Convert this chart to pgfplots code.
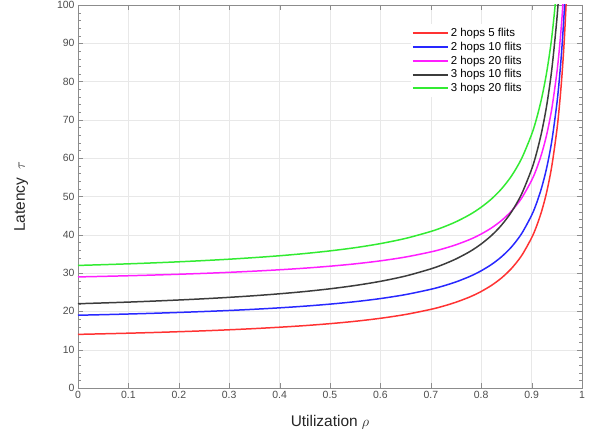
\documentclass[border=0pt]{standalone}
\usepackage{fontspec}
\setmainfont{Liberation Sans}
\usepackage{pgfplots}
\pgfplotsset{compat=1.18}
\definecolor{cRed}{RGB}{255,50,50}
\definecolor{cBlue}{RGB}{40,40,255}
\definecolor{cMag}{RGB}{255,30,255}
\definecolor{cBlk}{RGB}{60,60,60}
\definecolor{cGrn}{RGB}{50,235,50}
\begin{document}
\begin{tikzpicture}
\begin{axis}[
    name=ax,
    width=504bp, height=383bp, scale only axis,
    xmin=0, xmax=1, ymin=0, ymax=100,
    xtick={0,0.1,0.2,0.3,0.4,0.5,0.6,0.7,0.8,0.9,1},
    ytick={0,10,20,30,40,50,60,70,80,90,100},
    minor y tick num=4,
    grid=major,
    major grid style={draw=black!9},
    tick align=inside,
    axis line style={draw=black!45},
    tick style={draw=black!45},
    major tick length=5bp, minor tick length=3bp,
    /pgf/number format/assume math mode=true,
    ticklabel style={font=\fontsize{10.5}{12}\selectfont, text=black!70},
    xticklabel style={/pgf/number format/fixed},
    label style={font=\fontsize{15.5}{18}\selectfont, text=black!85},
    xlabel={Utilization $\rho$},
    ylabel={Latency\ \ $\tau$},
    xlabel style={at={(axis description cs:0.5,-0.09)}, anchor=center},
    ylabel style={at={(axis description cs:-0.113,0.5)}, anchor=center},
    legend style={at={(0.66,0.95)}, anchor=north west, draw=none, fill=white,
        font=\fontsize{11.5}{14}\selectfont, inner xsep=1bp, inner ysep=2bp},
    legend cell align=left,
    legend image code/.code={\draw[line width=2pt] (0bp,0bp) -- (35bp,0bp);},
]
% 2 hops 5 flits
\addplot[cRed, line width=1.5pt, smooth] coordinates {
(0,14) (0.05,14.15) (0.1,14.31) (0.15,14.49) (0.2,14.70) (0.25,14.93)
(0.3,15.20) (0.35,15.51) (0.4,15.87) (0.45,16.29) (0.5,16.80) (0.55,17.42)
(0.6,18.20) (0.65,19.20) (0.7,20.53) (0.725,21.38) (0.75,22.40) (0.775,23.64)
(0.79,24.53) (0.8,25.20) (0.82,26.76)
(0.84,28.70) (0.86,31.20) (0.88,34.53) (0.9,39.20) (0.91,42.31) (0.92,46.20)
(0.93,51.20) (0.94,57.87) (0.95,67.20) (0.955,73.42) (0.96,81.20) (0.965,91.20)
(0.97,104.53)
};
\addlegendentry{2 hops 5 flits}
% 2 hops 10 flits
\addplot[cBlue, line width=1.5pt, smooth] coordinates {
(0,19) (0.05,19.15) (0.1,19.32) (0.15,19.51) (0.2,19.73) (0.25,19.97)
(0.3,20.24) (0.35,20.56) (0.4,20.93) (0.45,21.37) (0.5,21.90) (0.55,22.54)
(0.6,23.35) (0.65,24.39) (0.7,25.77) (0.725,26.65) (0.75,27.70) (0.775,28.99)
(0.79,29.91) (0.8,30.60) (0.82,32.21)
(0.84,34.23) (0.86,36.81) (0.88,40.27) (0.9,45.10) (0.91,48.32) (0.92,52.35)
(0.93,57.53) (0.94,64.43) (0.95,74.10) (0.955,80.54) (0.96,88.60) (0.965,98.96)
(0.97,112.77)
};
\addlegendentry{2 hops 10 flits}
% 2 hops 20 flits
\addplot[cMag, line width=1.5pt, smooth] coordinates {
(0,29) (0.05,29.15) (0.1,29.31) (0.15,29.49) (0.2,29.70) (0.25,29.93)
(0.3,30.20) (0.35,30.51) (0.4,30.87) (0.45,31.29) (0.5,31.80) (0.55,32.42)
(0.6,33.20) (0.65,34.20) (0.7,35.53) (0.725,36.38) (0.75,37.40) (0.775,38.64)
(0.79,39.53) (0.8,40.20) (0.82,41.76)
(0.84,43.70) (0.86,46.20) (0.88,49.53) (0.9,54.20) (0.91,57.31) (0.92,61.20)
(0.93,66.20) (0.94,72.87) (0.95,82.20) (0.955,88.42) (0.96,96.20) (0.965,106.20)
};
\addlegendentry{2 hops 20 flits}
% 3 hops 10 flits
\addplot[cBlk, line width=1.5pt, smooth] coordinates {
(0,22) (0.05,22.21) (0.1,22.43) (0.15,22.69) (0.2,22.98) (0.25,23.30)
(0.3,23.67) (0.35,24.10) (0.4,24.60) (0.45,25.19) (0.5,25.90) (0.55,26.77)
(0.6,27.85) (0.65,29.24) (0.7,31.10) (0.725,32.28) (0.75,33.70) (0.775,35.43)
(0.79,36.67) (0.8,37.60) (0.82,39.77)
(0.84,42.48) (0.86,45.96) (0.88,50.60) (0.9,57.10) (0.91,61.43) (0.92,66.85)
(0.93,73.81) (0.94,83.10) (0.95,96.10) (0.955,104.77)
};
\addlegendentry{3 hops 10 flits}
% 3 hops 20 flits
\addplot[cGrn, line width=1.5pt, smooth] coordinates {
(0,32) (0.05,32.20) (0.1,32.42) (0.15,32.67) (0.2,32.95) (0.25,33.27)
(0.3,33.63) (0.35,34.05) (0.4,34.53) (0.45,35.11) (0.5,35.80) (0.55,36.64)
(0.6,37.70) (0.65,39.06) (0.7,40.87) (0.725,42.02) (0.75,43.40) (0.775,45.09)
(0.79,46.30) (0.8,47.20) (0.82,49.31)
(0.84,51.95) (0.86,55.34) (0.88,59.87) (0.9,66.20) (0.91,70.42) (0.92,75.70)
(0.93,82.49) (0.94,91.53) (0.95,104.20)
};
\addlegendentry{3 hops 20 flits}
\end{axis}
\pgfresetboundingbox
\path[use as bounding box] ([shift={(-78bp,-45bp)}]ax.south west) rectangle ([shift={(22bp,5bp)}]ax.north east);
\end{tikzpicture}
\end{document}
